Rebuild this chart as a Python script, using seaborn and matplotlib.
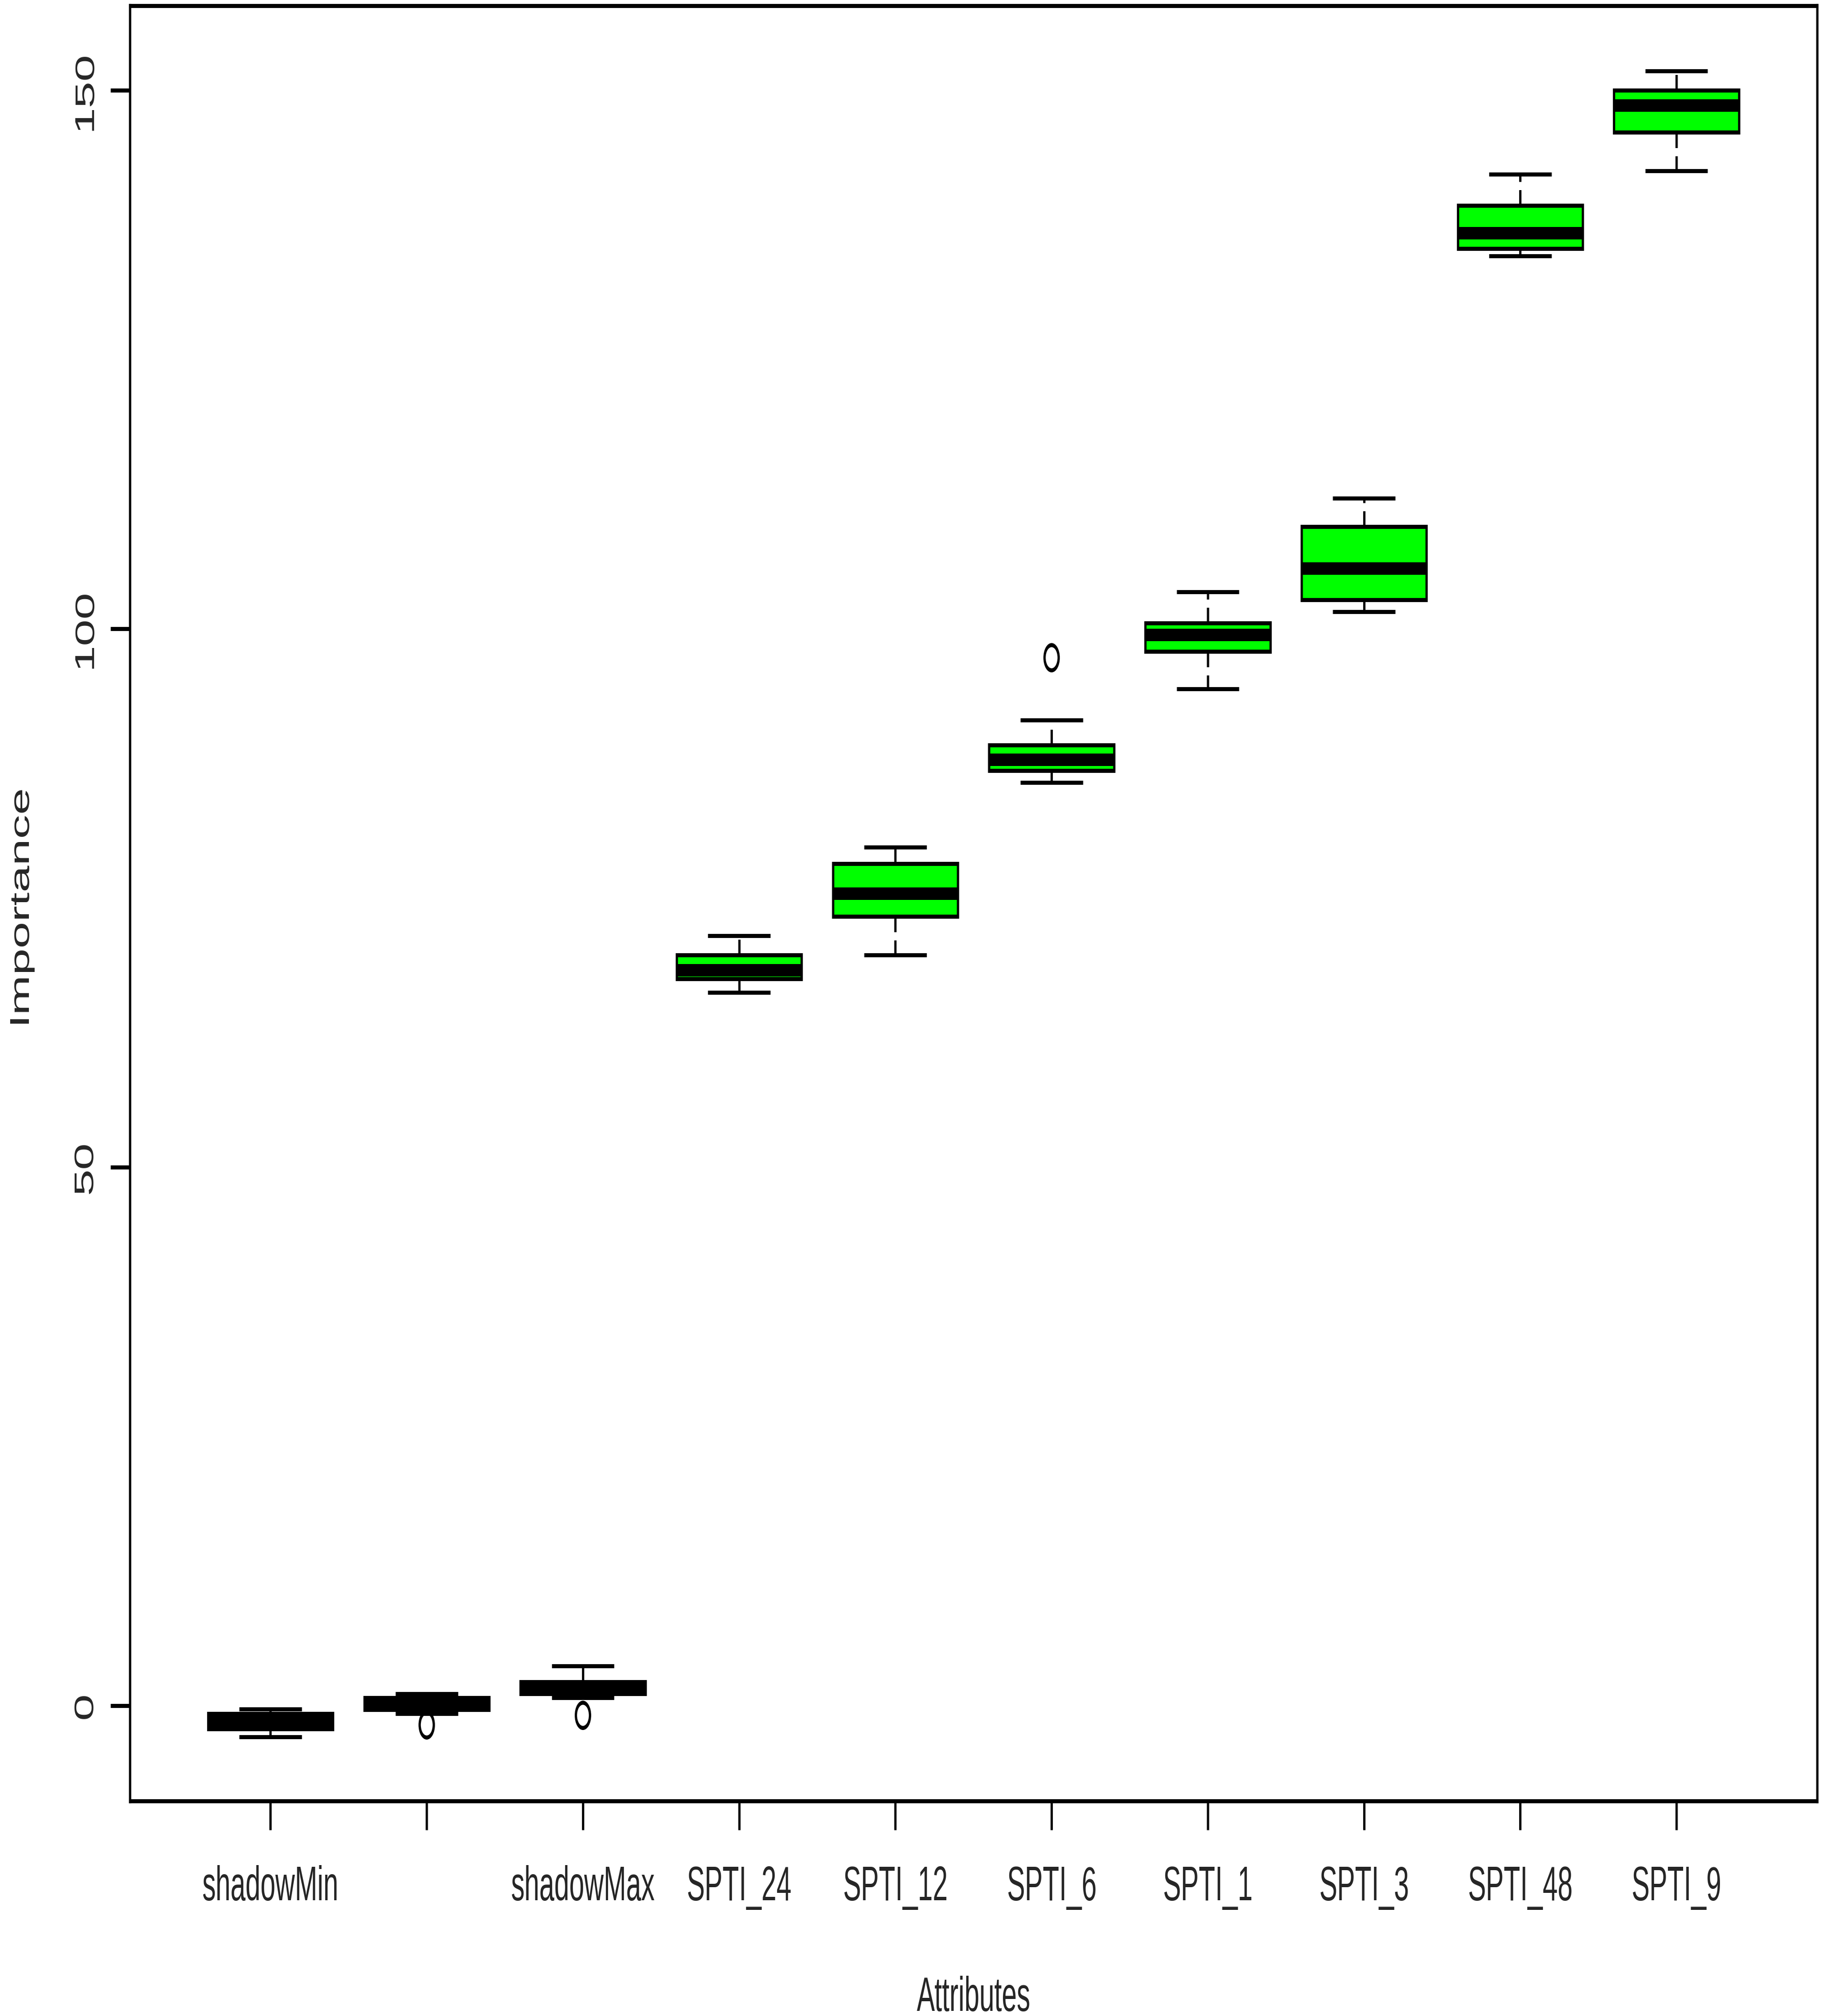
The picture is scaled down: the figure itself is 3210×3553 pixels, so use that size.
import matplotlib
matplotlib.use("Agg")
import matplotlib.pyplot as plt
import seaborn as sns
import pandas as pd
from PIL import Image

# === 1. Data (five-number summaries) ===
attributes = ["shadowMin", "shadowMean", "shadowMax", "SPTI_24", "SPTI_12",
              "SPTI_6", "SPTI_1", "SPTI_3", "SPTI_48", "SPTI_9"]
# R drops the label that would overlap its neighbours
tick_labels = ["shadowMin", "", "shadowMax", "SPTI_24", "SPTI_12",
               "SPTI_6", "SPTI_1", "SPTI_3", "SPTI_48", "SPTI_9"]
whisker_low = [-2.90, -0.72, 0.75, 66.2, 69.7, 85.7, 94.4, 101.6, 134.6, 142.5]
q1 = [-2.18, -0.36, 1.11, 67.5, 73.3, 86.8, 97.9, 102.7, 135.3, 146.1]
median = [-1.45, 0.20, 1.65, 68.3, 75.4, 87.8, 99.4, 105.6, 136.7, 148.6]
q3 = [-0.72, 0.74, 2.20, 69.7, 78.2, 89.2, 100.5, 109.5, 139.3, 150.0]
whisker_high = [-0.35, 1.10, 3.68, 71.5, 79.7, 91.5, 103.4, 112.1, 142.2, 151.8]

outlier_attr = ["shadowMean", "shadowMax", "SPTI_6"]
outlier_value = [-1.80, -0.91, 97.3]

y_ticks = [0, 50, 100, 150]

# colours: shadow attributes black, confirmed ones green
box_colors = ["black", "black", "black", "#00FF00", "#00FF00",
              "#00FF00", "#00FF00", "#00FF00", "#00FF00", "#00FF00"]

# === 2. Long table for seaborn ===
rows = []
for i, name in enumerate(attributes):
    for v in (whisker_low[i], q1[i], median[i], q3[i], whisker_high[i]):
        rows.append({"attribute": name, "importance": v})
df = pd.DataFrame(rows)
df_out = pd.DataFrame({"attribute": outlier_attr, "importance": outlier_value})
palette = dict(zip(attributes, box_colors))

# === 3. Style ===
sns.set_style("ticks")
plt.rcParams["font.family"] = ["Liberation Sans", "DejaVu Sans"]
plt.rcParams["axes.edgecolor"] = "black"

# the reference is horizontally squeezed: draw wide, then shrink the width
squeeze = 0.56
out_w, out_h, dpi = 3210, 3553, 100
LW = 5.2       # ~7 px
MED_LW = 15.8  # ~22 px
FS = 61

fig = plt.figure(figsize=(out_w / squeeze / dpi, out_h / dpi), dpi=dpi)
ax = fig.add_axes([0.07134, 0.10667, 0.92648, 0.89052])

sns.boxplot(data=df, x="attribute", y="importance", hue="attribute",
            order=attributes, hue_order=attributes, palette=palette,
            saturation=1, width=0.8, whis=(0, 100), linewidth=LW,
            linecolor="black", legend=False, showfliers=False, ax=ax,
            medianprops=dict(linewidth=MED_LW, solid_capstyle="butt"),
            whiskerprops=dict(linestyle=(0, (3.8, 2.0))),
            capprops=dict(solid_capstyle="butt"))

n_before = len(ax.collections)
sns.stripplot(data=df_out, x="attribute", y="importance", order=attributes,
              jitter=False, color="black", size=32, marker="o",
              linewidth=LW, edgecolor="black", ax=ax)
for coll in ax.collections[n_before:]:
    coll.set_facecolor("none")

# === 4. Axes ===
ax.set_xlim(-0.9, 9.9)
ax.set_ylim(-8.86, 157.85)
ax.set_xticks(range(len(attributes)))
ax.set_xticklabels(tick_labels)
ax.set_yticks(y_ticks)
ax.set_yticklabels([str(t) for t in y_ticks])
ax.tick_params(axis="x", length=36.7, width=LW, pad=45, labelsize=FS,
               direction="out", color="black")
ax.tick_params(axis="y", length=44, width=LW, pad=28, labelsize=FS,
               direction="out", color="black", labelrotation=90)
for lab in ax.get_yticklabels():
    lab.set_va("center")
for sp in ax.spines.values():
    sp.set_visible(True)
    sp.set_linewidth(LW)
    sp.set_color("black")

ax.set_xlabel("Attributes", fontsize=FS)
ax.xaxis.set_label_coords(0.5, -0.0975)
ax.set_ylabel("Importance", fontsize=FS)
ax.yaxis.set_label_coords(-0.0578, 0.5)

# === 5. Save and squeeze to final size ===
fig.savefig("out.png", dpi=dpi)
img = Image.open("out.png")
img = img.resize((out_w, out_h), Image.LANCZOS)
img.save("out.png")
